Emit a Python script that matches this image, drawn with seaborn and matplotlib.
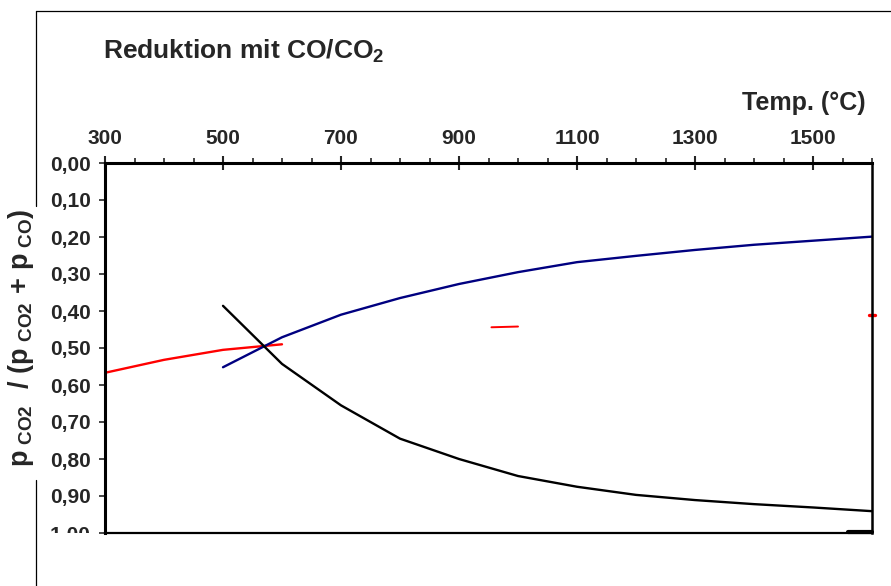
import numpy as np
import matplotlib
matplotlib.use("Agg")
import matplotlib.pyplot as plt
import matplotlib.ticker as mticker
from matplotlib.transforms import Bbox
import seaborn as sns

# values
temp_red = [300, 400, 500, 600]
ratio_red = [0.567, 0.532, 0.505, 0.490]

temp_blue = [500, 600, 700, 800, 900, 1000, 1100, 1200, 1300, 1400, 1500, 1600]
ratio_blue = [0.552, 0.471, 0.410, 0.365, 0.327, 0.295, 0.268, 0.251, 0.235, 0.221, 0.210, 0.199]

temp_black = [500, 600, 700, 800, 900, 1000, 1100, 1200, 1300, 1400, 1500, 1600]
ratio_black = [0.386, 0.543, 0.655, 0.745, 0.800, 0.846, 0.875, 0.897, 0.911, 0.922, 0.931, 0.941]

# small leftover pieces visible in the chart
temp_red_bit = [955, 1000]
ratio_red_bit = [0.444, 0.442]
temp_red_edge = [1595, 1605]
ratio_red_edge = [0.412, 0.412]
temp_black_bit = [1560, 1600]
ratio_black_bit = [0.998, 0.998]

x_ticks = [300, 500, 700, 900, 1100, 1300, 1500]
y_ticks = [0.0, 0.1, 0.2, 0.3, 0.4, 0.5, 0.6, 0.7, 0.8, 0.9, 1.0]

sns.set_style("white")
plt.rcParams['font.family'] = ['Liberation Sans', 'DejaVu Sans']
plt.rcParams['font.weight'] = 'bold'
plt.rcParams['mathtext.fontset'] = 'custom'
plt.rcParams['mathtext.rm'] = 'Liberation Sans'
plt.rcParams['mathtext.bf'] = 'Liberation Sans:bold'
plt.rcParams['mathtext.it'] = 'Liberation Sans:italic'

fig = plt.figure(figsize=(8.91, 5.86), dpi=100)
ax = fig.add_axes([105 / 891, 1 - 533 / 586, 767 / 891, 370 / 586])

sns.lineplot(x=temp_red, y=ratio_red, color='#ff0000', linewidth=1.7, sort=False, estimator=None, ax=ax)
sns.lineplot(x=temp_blue, y=ratio_blue, color='#000080', linewidth=1.7, sort=False, estimator=None, ax=ax)
sns.lineplot(x=temp_black, y=ratio_black, color='black', linewidth=1.7, sort=False, estimator=None, ax=ax)
sns.lineplot(x=temp_red_bit, y=ratio_red_bit, color='#ff0000', linewidth=1.4, sort=False, estimator=None, ax=ax)
sns.lineplot(x=temp_black_bit, y=ratio_black_bit, color='black', linewidth=3, sort=False, estimator=None, ax=ax)
sns.lineplot(x=temp_red_edge, y=ratio_red_edge, color='#ff0000', linewidth=2.4, sort=False, estimator=None, ax=ax)
ax.lines[-1].set_clip_on(False)
ax.lines[-2].set_clip_on(False)

ax.set_xlim(300, 1600)
ax.set_ylim(1.0, 0.0)
ax.xaxis.tick_top()
ax.set_xticks(x_ticks)
ax.xaxis.set_minor_locator(mticker.MultipleLocator(50))
ax.set_yticks(y_ticks)
ax.yaxis.set_major_formatter(mticker.FuncFormatter(lambda v, p: f"{v:.2f}".replace('.', ',')))
ax.tick_params(axis='x', which='major', direction='inout', length=10, width=1.5, labelsize=15, pad=5.5, top=True, bottom=False)
ax.tick_params(axis='x', which='minor', direction='out', length=3.6, width=1.2, top=True, bottom=False)
ax.tick_params(axis='y', which='major', direction='out', length=4.3, width=1.2, labelsize=15, pad=6, left=True)
ax.set_xlabel('')
ax.set_ylabel('')

for side, w in [('left', 2.2), ('top', 2.2), ('right', 1.8), ('bottom', 1.6)]:
    ax.spines[side].set_visible(True)
    ax.spines[side].set_color('black')
    ax.spines[side].set_linewidth(w)

# bottom tick label is cut off at the plot bottom like in the original
fig.canvas.draw()
clip = Bbox.from_extents(0, 586 - 533, 891, 586)
for lbl in ax.get_yticklabels():
    if lbl.get_text() == '1,00':
        lbl.set_clip_box(clip)
        lbl.set_clip_on(True)

fig.text(103 / 891, 1 - 59 / 586, r"Reduktion mit CO/CO$_\mathbf{2}$", ha='left', va='baseline',
         fontsize=19, fontweight='bold')
fig.text(866 / 891, 1 - 110 / 586, "Temp. (°C)", ha='right', va='baseline', fontsize=18, fontweight='bold')
fig.text(21 / 891, 1 - 338 / 586,
         r"$\mathbf{p}_{\mathrm{\ CO2}}\ \ \mathbf{/\ (p}_{\mathrm{\ CO2}}\ \mathbf{+\ p}_{\mathrm{\ CO}}\mathbf{)}$",
         rotation=90, ha='center', va='center', fontsize=19.5)

# outer chart frame lines
fig.add_artist(plt.Line2D([36 / 891, 1], [1 - 11 / 586, 1 - 11 / 586], color='black', linewidth=0.9))
fig.add_artist(plt.Line2D([36 / 891, 36 / 891], [1 - 11 / 586, 1 - 206 / 586], color='black', linewidth=0.9))
fig.add_artist(plt.Line2D([36 / 891, 36 / 891], [1 - 480 / 586, 0], color='black', linewidth=0.9))

fig.savefig('out.png', dpi=100)
